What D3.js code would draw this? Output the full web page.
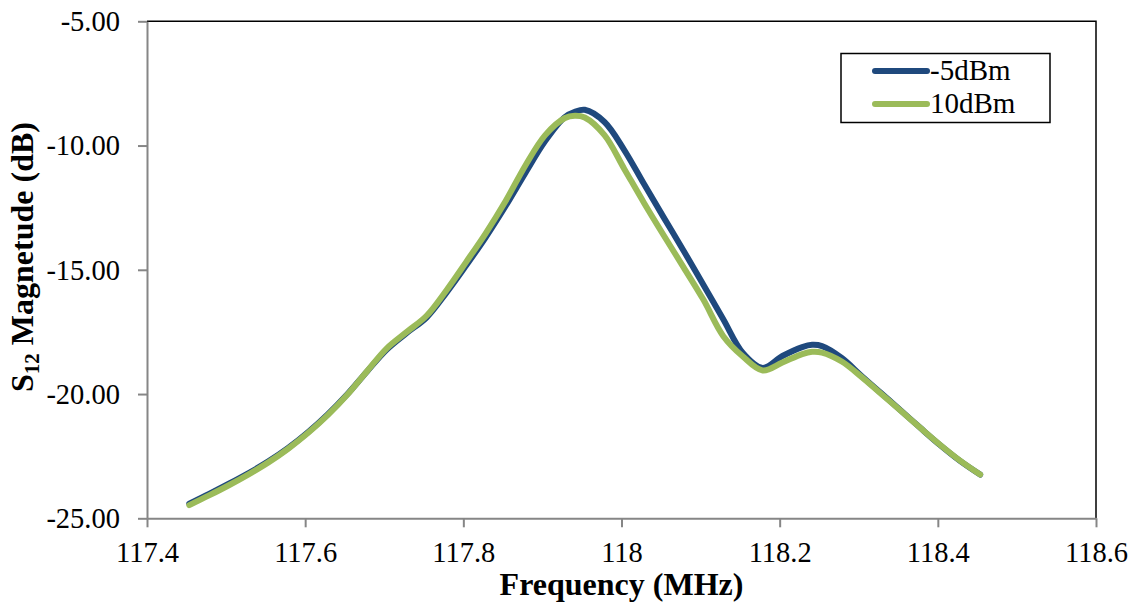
<!DOCTYPE html>
<html>
<head>
<meta charset="utf-8">
<script src="https://cdn.jsdelivr.net/npm/d3@7/dist/d3.min.js"></script>
<style>
  html, body { margin: 0; padding: 0; background: #fff; }
  svg { display: block; }
  text { font-family: "Liberation Serif", "Times New Roman", serif; fill: #000; }
</style>
</head>
<body>
<svg id="chart" width="1135" height="605"></svg>
<script>
// Frequency sweep points (MHz)
const freq = [117.4535, 117.4785, 117.5035, 117.5285, 117.5535, 117.5785, 117.6035, 117.6285,
  117.6535, 117.6785, 117.7035, 117.7285, 117.7535, 117.7785, 117.8035, 117.8285, 117.8535,
  117.8785, 117.9035, 117.9285, 117.941, 117.9535, 117.9785, 118.0035, 118.0285, 118.0535,
  118.0785, 118.1035, 118.1285, 118.1535, 118.1785, 118.2035, 118.2285, 118.241, 118.2535,
  118.2785, 118.3035, 118.3285, 118.3535, 118.3785, 118.4035, 118.4285, 118.4535];

// S12 magnitude (dB) at -5 dBm drive
const s12Minus5 = [-24.41, -24.02, -23.61, -23.18, -22.71, -22.17, -21.54, -20.82,
  -20.00, -19.08, -18.20, -17.54, -16.92, -15.93, -14.83, -13.68, -12.43,
  -11.10, -9.82, -8.85, -8.64, -8.56, -9.05, -10.18, -11.55, -12.90,
  -14.23, -15.60, -16.98, -18.35, -18.95, -18.47, -18.11, -18.02, -18.07,
  -18.55, -19.27, -19.97, -20.67, -21.38, -22.07, -22.70, -23.24];

// S12 magnitude (dB) at 10 dBm drive
const s12Plus10 = [-24.47, -24.08, -23.67, -23.23, -22.75, -22.20, -21.57, -20.85,
  -20.02, -19.07, -18.15, -17.50, -16.85, -15.83, -14.69, -13.52, -12.23,
  -10.80, -9.58, -8.89, -8.80, -8.87, -9.58, -10.94, -12.31, -13.62,
  -14.90, -16.20, -17.66, -18.49, -19.05, -18.73, -18.39, -18.30, -18.33,
  -18.69, -19.31, -20.00, -20.68, -21.38, -22.06, -22.69, -23.24];

const seriesNames = ["-5dBm", "10dBm"];
const xTicks = [117.4, 117.6, 117.8, 118, 118.2, 118.4, 118.6];
const yTicks = [-25, -20, -15, -10, -5];

(function draw() {
  const svg = d3.select("#chart");
  const pl = 147, pr = 1096, pt = 21.3, pb = 518.3;

  const x = d3.scaleLinear().domain([117.4, 118.6]).range([pl, pr]);
  const y = d3.scaleLinear().domain([-25, -5]).range([pb, pt]);

  const colors = ["#1F497D", "#9BBB59"];
  const series = [s12Minus5, s12Plus10];

  // Plot frame: top and right edges
  svg.append("path")
    .attr("d", `M${pl},${pt}H${pr}V${pb}`)
    .attr("fill", "none").attr("stroke", "#000").attr("stroke-width", 1.5);

  // Curves
  const line = d3.line()
    .x((d, i) => x(freq[i]))
    .y(d => y(d))
    .curve(d3.curveCatmullRom.alpha(0.5));

  series.forEach((s, k) => {
    svg.append("path")
      .datum(s)
      .attr("d", line)
      .attr("fill", "none")
      .attr("stroke", colors[k])
      .attr("stroke-width", 6)
      .attr("stroke-linecap", "round")
      .attr("stroke-linejoin", "round");
  });

  // Axes
  const xAxis = d3.axisBottom(x).tickValues(xTicks).tickSize(9).tickSizeOuter(0)
    .tickFormat(d => String(+d.toFixed(1)));
  const gx = svg.append("g").attr("transform", `translate(0,${pb})`).call(xAxis);
  gx.select(".domain").attr("stroke", "#868686").attr("stroke-width", 2);
  gx.selectAll(".tick line").attr("stroke", "#868686").attr("stroke-width", 2);
  gx.selectAll(".tick text").attr("y", 44).attr("dy", 0).attr("fill", "#000")
    .style("font-size", "28.5px").style("font-family", "'Liberation Serif', serif");

  const yAxis = d3.axisLeft(y).tickValues(yTicks).tickSize(9).tickSizeOuter(0)
    .tickFormat(d => d.toFixed(2));
  const gy = svg.append("g").attr("transform", `translate(${pl},0)`).call(yAxis);
  gy.select(".domain").attr("stroke", "#868686").attr("stroke-width", 2);
  gy.selectAll(".tick line").attr("stroke", "#868686").attr("stroke-width", 2);
  gy.selectAll(".tick text").attr("x", -27).attr("dy", "0.33em").attr("fill", "#000")
    .style("font-size", "28.5px").style("font-family", "'Liberation Serif', serif");

  // Axis titles
  svg.append("text")
    .attr("x", (pl + pr) / 2).attr("y", 595)
    .attr("text-anchor", "middle")
    .style("font-size", "32px").style("font-weight", "bold")
    .text("Frequency (MHz)");

  const yTitle = svg.append("text")
    .attr("transform", `translate(33,257) rotate(-90)`)
    .attr("text-anchor", "middle")
    .style("font-size", "32px").style("font-weight", "bold");
  yTitle.append("tspan").text("S");
  yTitle.append("tspan").attr("dy", 6).style("font-size", "21px").text("12");
  yTitle.append("tspan").attr("dy", -6).text(" Magnetude (dB)");

  // Legend
  const lg = svg.append("g");
  lg.append("rect")
    .attr("x", 841).attr("y", 53.5).attr("width", 209).attr("height", 69)
    .attr("fill", "#fff").attr("stroke", "#000").attr("stroke-width", 1.5);
  seriesNames.forEach((name, k) => {
    const ly = 71 + k * 33;
    lg.append("line")
      .attr("x1", 875).attr("x2", 927).attr("y1", ly).attr("y2", ly)
      .attr("stroke", colors[k]).attr("stroke-width", 6).attr("stroke-linecap", "round");
    lg.append("text")
      .attr("x", 930).attr("y", ly + 9)
      .style("font-size", "29px")
      .text(name);
  });
})();
</script>
</body>
</html>
